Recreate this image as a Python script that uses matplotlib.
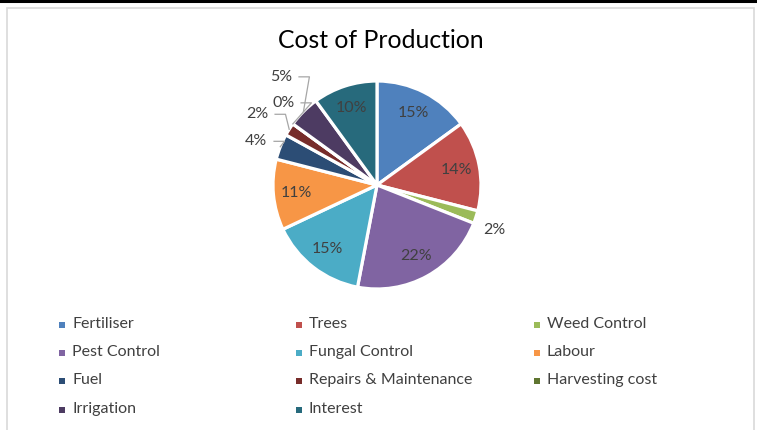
import numpy as np
import matplotlib.pyplot as plt
from matplotlib.patches import Rectangle
from matplotlib.lines import Line2D

plt.rcParams['font.family'] = ['Lato', 'DejaVu Sans']

categories = ["Fertiliser", "Trees", "Weed Control", "Pest Control", "Fungal Control",
              "Labour", "Fuel", "Repairs & Maintenance", "Harvesting cost",
              "Irrigation", "Interest"]
values = [15, 14, 2, 22, 15, 11, 4, 2, 0, 5, 10]
colors = ["#4F81BD", "#C0504D", "#9BBB59", "#8064A2", "#4BACC6", "#F79646",
          "#2C4D75", "#772C2A", "#5F7530", "#4D3B62", "#276A7C"]

# outside labels: (label x, label y, has leader) in axes data units (radius = 1)
outside = {
    2: (1.13, -0.43, False),
    6: (-1.16, 0.42, True),
    7: (-1.15, 0.68, True),
    8: (-0.90, 0.79, True),
    9: (-0.92, 1.04, True),
}

W, H = 757, 430
fig = plt.figure(figsize=(W / 100, H / 100), dpi=100)

# frame + top bar
fig.add_artist(Line2D([0, 1], [1 - 1 / H, 1 - 1 / H], color="black", lw=2.2))
fig.add_artist(Rectangle((7 / W, -0.05), (754 - 7) / W, (430 - 8) / H + 0.05,
                         transform=fig.transFigure, fill=False,
                         edgecolor="#D9D9D9", lw=1.2))

fig.text(381 / W, 1 - 40 / H, "Cost of Production", ha="center", va="center",
         fontsize=17.8, color="#000000")

cx, cy, r = 377, 185, 104
span = 1.6
ax = fig.add_axes([(cx - span * r) / W, (H - cy - span * r) / H,
                   2 * span * r / W, 2 * span * r / H])

wedges, _ = ax.pie(values, colors=colors, startangle=90, counterclock=False,
                   radius=1, wedgeprops=dict(edgecolor="white", linewidth=2.3))
ax.set_xlim(-span, span)
ax.set_ylim(-span, span)
ax.set_aspect("equal")
ax.axis("off")

total = float(sum(values))
for i, w in enumerate(wedges):
    pct = "{:.0f}%".format(100 * values[i] / total)
    mid = np.deg2rad((w.theta1 + w.theta2) / 2)
    if i in outside:
        lx, ly, leader = outside[i]
        ax.text(lx, ly, pct, ha="center", va="center", fontsize=11.5, color="#404040")
        if leader:
            ex, ey = 1.0 * np.cos(mid), 1.0 * np.sin(mid)
            ax.plot([lx + 0.17, lx + 0.27, ex], [ly, ly, ey], color="#A6A6A6", lw=0.9)
    else:
        d = 0.78
        ax.text(d * np.cos(mid), d * np.sin(mid), pct, ha="center", va="center",
                fontsize=11.5, color="#404040")

# legend, row-major in 3 columns
col_x = [62, 299, 537]
row_y = [325, 353, 381, 410]
sq = 6
for k, (name, c) in enumerate(zip(categories, colors)):
    x = col_x[k % 3]
    y = row_y[k // 3]
    fig.add_artist(Rectangle(((x - sq / 2) / W, 1 - (y + sq / 2) / H), sq / W, sq / H,
                             transform=fig.transFigure, facecolor=c, edgecolor="none"))
    fig.text((x + 10) / W, 1 - (y - 1) / H, name, ha="left", va="center",
             fontsize=11.5, color="#404040")

fig.savefig("out.png", dpi=100)
